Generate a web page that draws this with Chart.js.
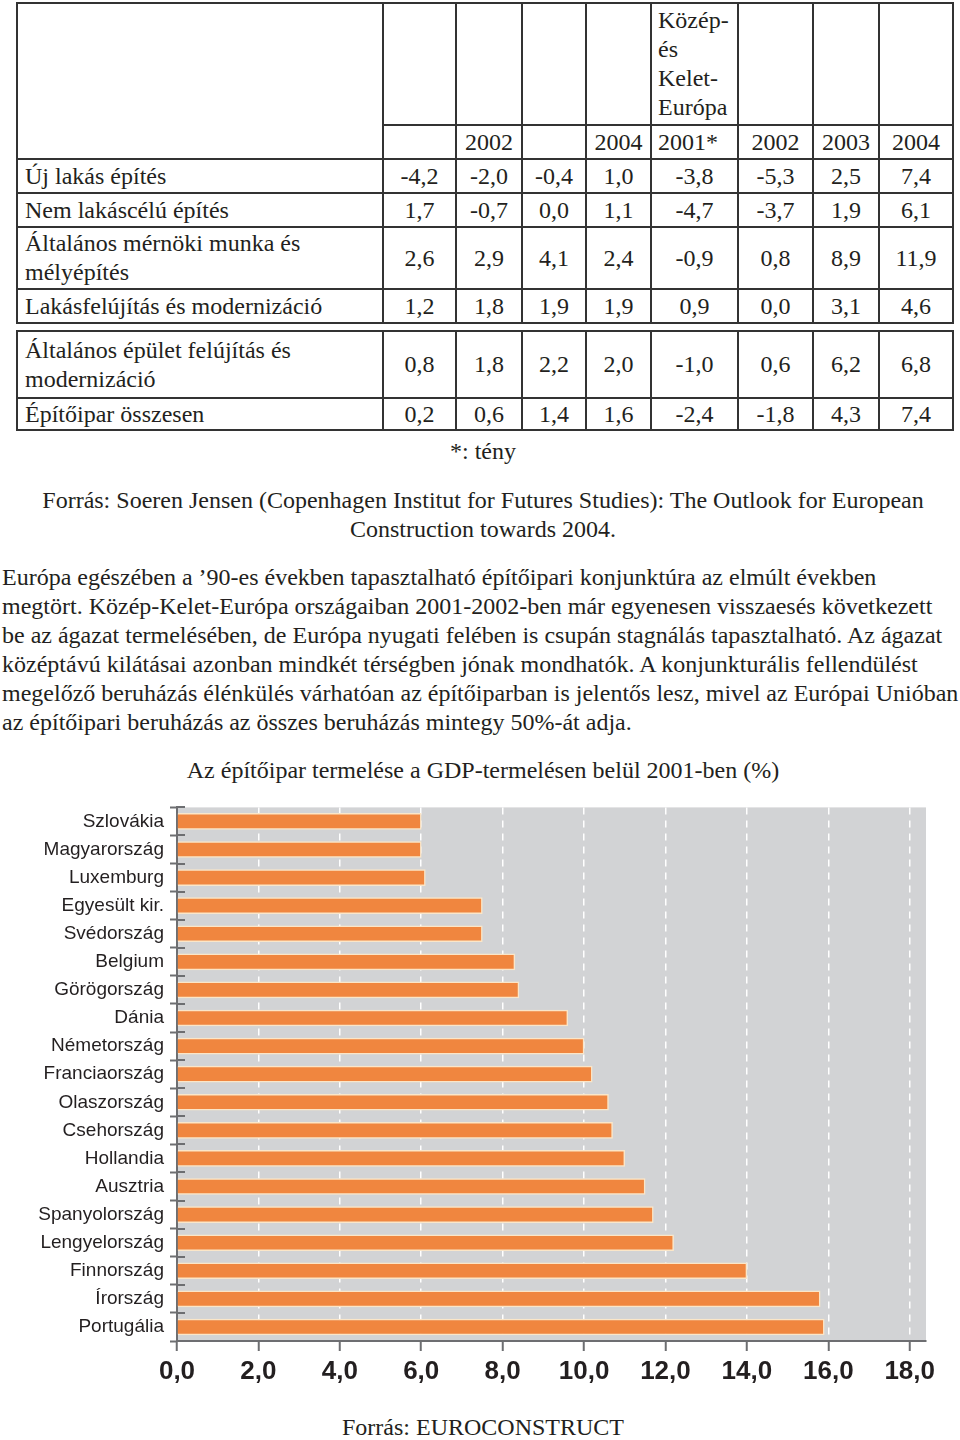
<!DOCTYPE html>
<html lang="hu">
<head>
    <meta charset="UTF-8">
    <meta name="viewport" content="width=device-width, initial-scale=1.0">
    <script src="https://cdn.jsdelivr.net/npm/chart.js"></script>
    <style>
        body {
            margin: 0;
            width: 960px;
            height: 1440px;
            position: relative;
            background: #fff;
            color: #231f20;
            font-family: "Liberation Serif", "DejaVu Serif", serif;
        }
        .blk {
            position: absolute;
            font-size: 24px;
            line-height: 29px;
            white-space: nowrap;
        }
        table {
            position: absolute;
            left: 16px;
            width: 936px;
            border-collapse: collapse;
            table-layout: fixed;
        }
        td {
            font-family: "Liberation Serif", "DejaVu Serif", serif;
            font-size: 24px;
            border: 2px solid #333;
            padding: 0 6px;
            text-align: center;
            line-height: 29px;
            white-space: nowrap;
        }
        td.lbl {
            text-align: left;
            padding-left: 7px;
        }
        td.hdr {
            text-align: left;
            vertical-align: bottom;
            padding-bottom: 2px;
        }
        #chartDiv {
            position: absolute;
            left: 0;
            top: 790px;
            width: 940px;
            height: 604px;
        }
    </style>
    <title>Építőipar</title>
</head>
<body>
    <table id="tab1">
        <colgroup>
            <col style="width:366px"><col style="width:73px"><col style="width:66px"><col style="width:64px">
            <col style="width:65px"><col style="width:87px"><col style="width:75px"><col style="width:66px"><col style="width:74px">
        </colgroup>
        <tr style="height:122px">
            <td rowspan="2"></td><td></td><td></td><td></td><td></td>
            <td class="hdr">Közép-<br>és<br>Kelet-<br>Európa</td><td></td><td></td><td></td>
        </tr>
        <tr style="height:34px" id="yearRow"></tr>
    </table>
    <table id="tab2" style="top:330px">
        <colgroup>
            <col style="width:366px"><col style="width:73px"><col style="width:66px"><col style="width:64px">
            <col style="width:65px"><col style="width:87px"><col style="width:75px"><col style="width:66px"><col style="width:74px">
        </colgroup>
    </table>

    <div class="blk" style="left:0;width:966px;text-align:center;top:437px">*: tény</div>
    <div class="blk" style="left:0;width:966px;text-align:center;top:486px">Forrás: Soeren Jensen (Copenhagen Institut for Futures Studies): The Outlook for European<br>Construction towards 2004.</div>
    <div class="blk" style="left:2px;top:563px">
        Európa egészében a ’90-es években tapasztalható építőipari konjunktúra az elmúlt években<br>
        megtört. Közép-Kelet-Európa országaiban 2001-2002-ben már egyenesen visszaesés következett<br>
        be az ágazat termelésében, de Európa nyugati felében is csupán stagnálás tapasztalható. Az ágazat<br>
        középtávú kilátásai azonban mindkét térségben jónak mondhatók. A konjunkturális fellendülést<br>
        megelőző beruházás élénkülés várhatóan az építőiparban is jelentős lesz, mivel az Európai Unióban<br>
        az építőipari beruházás az összes beruházás mintegy 50%-át adja.
    </div>
    <div class="blk" style="left:0;width:966px;text-align:center;top:756px">Az építőipar termelése a GDP-termelésen belül 2001-ben (%)</div>

    <div id="chartDiv">
        <canvas id="gdpChart"></canvas>
    </div>

    <div class="blk" style="left:0;width:966px;text-align:center;top:1413px">Forrás: EUROCONSTRUCT</div>
</body>
<script>
    var doc = document;

    // table data
    var yearHeads = ["", "2002", "", "2004", "2001*", "2002", "2003", "2004"];
    var rowNames = [
        "Új lakás építés",
        "Nem lakáscélú építés",
        "Általános mérnöki munka és<br>mélyépítés",
        "Lakásfelújítás és modernizáció",
        "Általános épület felújítás és<br>modernizáció",
        "Építőipar összesen"
    ];
    var rowValues = [
        ["-4,2", "-2,0", "-0,4", "1,0", "-3,8", "-5,3", "2,5", "7,4"],
        ["1,7", "-0,7", "0,0", "1,1", "-4,7", "-3,7", "1,9", "6,1"],
        ["2,6", "2,9", "4,1", "2,4", "-0,9", "0,8", "8,9", "11,9"],
        ["1,2", "1,8", "1,9", "1,9", "0,9", "0,0", "3,1", "4,6"],
        ["0,8", "1,8", "2,2", "2,0", "-1,0", "0,6", "6,2", "6,8"],
        ["0,2", "0,6", "1,4", "1,6", "-2,4", "-1,8", "4,3", "7,4"]
    ];
    var rowHeights = [34, 34, 62, 34, 67, 32];

    // chart data
    var countries = [
        "Szlovákia", "Magyarország", "Luxemburg", "Egyesült kir.", "Svédország",
        "Belgium", "Görögország", "Dánia", "Németország", "Franciaország",
        "Olaszország", "Csehország", "Hollandia", "Ausztria", "Spanyolország",
        "Lengyelország", "Finnország", "Írország", "Portugália"
    ];
    var gdpShare = [
        6.0, 6.0, 6.1, 7.5, 7.5,
        8.3, 8.4, 9.6, 10.0, 10.2,
        10.6, 10.7, 11.0, 11.5, 11.7,
        12.2, 14.0, 15.8, 15.9
    ];
    var xTickValues = [0, 2, 4, 6, 8, 10, 12, 14, 16, 18];

    // build table
    yearHeads.forEach(function(y, i) {
        let td = doc.createElement('td');
        td.innerHTML = y;
        if (i === 4) td.style.textAlign = 'left';
        yearRow.appendChild(td);
    });
    for (let r = 0; r < rowNames.length; r++) {
        let tr = doc.createElement('tr');
        tr.style.height = rowHeights[r] + 'px';
        let td = doc.createElement('td');
        td.className = 'lbl';
        td.innerHTML = rowNames[r];
        tr.appendChild(td);
        rowValues[r].forEach(function(v) {
            let c = doc.createElement('td');
            c.innerHTML = v;
            tr.appendChild(c);
        });
        (r < 4 ? tab1 : tab2).appendChild(tr);
    }
    tab1.style.top = '2px';

    // grey plot background + short marks on the category axis
    const plotBg = {
        id: 'plotBg',
        beforeDraw(chart) {
            const a = chart.chartArea;
            const c = chart.ctx;
            c.save();
            c.fillStyle = '#d2d3d5';
            c.fillRect(a.left, a.top, a.right - a.left, a.bottom - a.top);
            c.restore();
        },
        afterDraw(chart) {
            const y = chart.scales.y;
            const c = chart.ctx;
            c.save();
            c.strokeStyle = '#6d6e71';
            c.lineWidth = 2;
            for (let i = 0; i < countries.length; i++) {
                let py = Math.round(y.getPixelForValue(i - 0.5));
                c.beginPath();
                c.moveTo(y.right, py);
                c.lineTo(y.right + 8, py);
                c.stroke();
            }
            c.restore();
        }
    };

    const ctx = doc.getElementById('gdpChart');
    var chart = new Chart(ctx, {
        type: 'bar',
        data: {
            labels: countries,
            datasets: [{
                data: gdpShare,
                backgroundColor: '#f0863f',
                borderColor: '#fbe6c8',
                borderWidth: 1.5,
                barThickness: 16
            }]
        },
        plugins: [plotBg],
        options: {
            indexAxis: 'y',
            responsive: true,
            maintainAspectRatio: false,
            animation: false,
            layout: { padding: { top: 3, right: 0, left: 0, bottom: 0 } },
            plugins: {
                legend: { display: false },
                tooltip: { enabled: false }
            },
            scales: {
                x: {
                    min: 0,
                    max: 18.4,
                    afterBuildTicks: function(scale) {
                        scale.ticks = xTickValues.map(v => ({ value: v }));
                    },
                    afterFit: function(scale) { scale.height = 53; },
                    ticks: {
                        padding: 5,
                        color: '#231f20',
                        font: { family: '"Liberation Sans Narrow", "Liberation Sans", Arial', size: 26, weight: 'bold' },
                        callback: function(v) { return v.toFixed(1).replace('.', ','); }
                    },
                    grid: {
                        color: '#ffffff',
                        lineWidth: 1.5,
                        tickColor: '#6d6e71',
                        tickLength: 10,
                        tickWidth: 2
                    },
                    border: { color: '#6d6e71', width: 2, dash: [7, 6] }
                },
                y: {
                    afterFit: function(scale) { scale.width = 177; },
                    ticks: {
                        padding: 6,
                        color: '#231f20',
                        font: { family: '"Liberation Sans", Arial', size: 19 }
                    },
                    grid: {
                        offset: true,
                        drawOnChartArea: false,
                        tickColor: '#6d6e71',
                        tickLength: 7,
                        tickWidth: 2
                    },
                    border: { color: '#6d6e71', width: 2 }
                }
            }
        }
    });
</script>
</html>
